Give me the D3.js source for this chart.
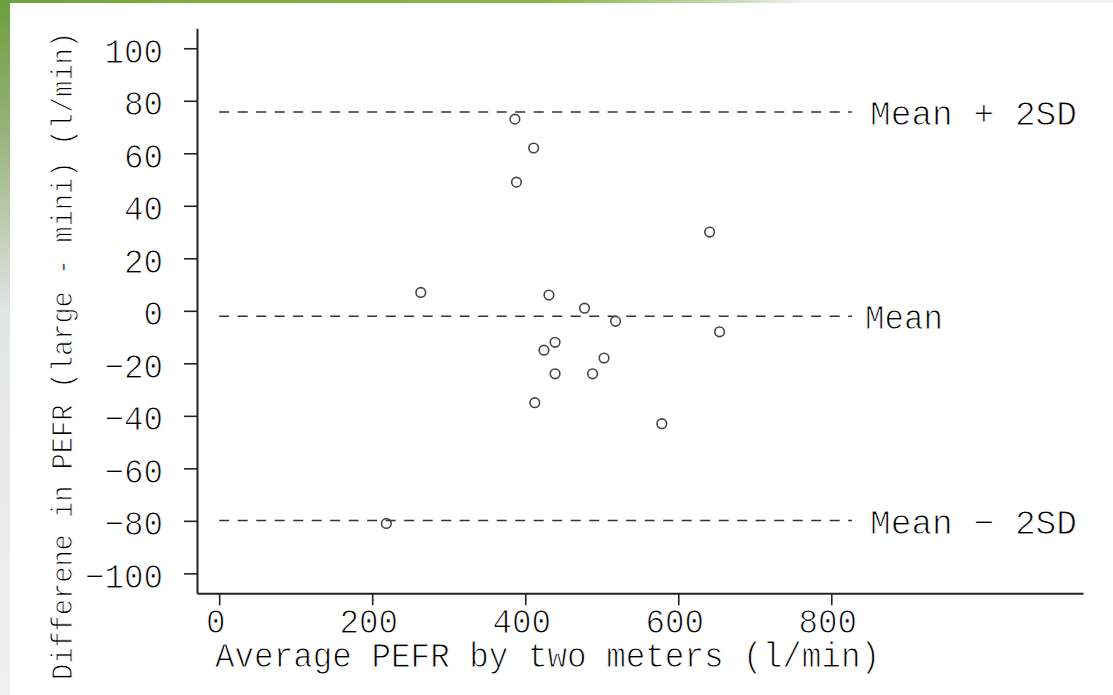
<!DOCTYPE html>
<html>
<head>
<meta charset="utf-8">
<script src="https://cdn.jsdelivr.net/npm/d3@7"></script>
<style>
  html, body { margin: 0; padding: 0; background: #fff; }
  svg { display: block; }
  text {
    font-family: "Liberation Mono", "DejaVu Sans Mono", monospace;
    fill: #000;
    stroke: #fff;
    stroke-width: 0.9px;
    paint-order: fill;
  }
</style>
</head>
<body>
<svg id="chart" width="1113" height="695"></svg>
<script>
// Bland–Altman plot: large vs mini Wright peak flow meters (17 subjects)
const avgPEFR  = [503, 412.5, 518, 431, 488, 578.5, 388.5, 411, 654, 439, 424.5, 641, 263.5, 477.5, 218.5, 386.5, 439];
const diffPEFR = [-18, -35, -4, 6, -24, -43, 49, 62, -8, -12, -15, 30, 7, 1, -81, 73, -24];

// Limits of agreement: mean difference and mean ± 2 SD
const refValues = [75.7, -2.1, -79.9];
const refLabels = ["Mean + 2SD", "Mean", "Mean \u2212 2SD"];

const xTicks = [0, 200, 400, 600, 800];
const yTicks = [100, 80, 60, 40, 20, 0, -20, -40, -60, -80, -100];

const xTitle = "Average PEFR by two meters (l/min)";
const yTitle = "Differene in PEFR (large - mini) (l/min)";

const svg = d3.select("#chart");
const W = 1113, H = 695;
const stretch = 1.08;   // the plotter glyphs are a little taller than the font

// slide backdrop: green band along top and left edges fading to grey
const defs = svg.append("defs");
const gTop = defs.append("linearGradient").attr("id", "gTop").attr("x1", 0).attr("x2", 1).attr("y1", 0).attr("y2", 0);
gTop.append("stop").attr("offset", 0).attr("stop-color", "#6fa63c");
gTop.append("stop").attr("offset", 0.5).attr("stop-color", "#86bb4a");
gTop.append("stop").attr("offset", 0.66).attr("stop-color", "#c9dcb5");
gTop.append("stop").attr("offset", 0.72).attr("stop-color", "#f0f1ef");
gTop.append("stop").attr("offset", 1).attr("stop-color", "#f2f2f2");
const gLeft = defs.append("linearGradient").attr("id", "gLeft").attr("x1", 0).attr("x2", 0).attr("y1", 0).attr("y2", 1);
gLeft.append("stop").attr("offset", 0).attr("stop-color", "#6c9e3c");
gLeft.append("stop").attr("offset", 0.2).attr("stop-color", "#9ab47e");
gLeft.append("stop").attr("offset", 0.45).attr("stop-color", "#e2e5e6");
gLeft.append("stop").attr("offset", 1).attr("stop-color", "#f0f0f2");

svg.append("rect").attr("x", 0).attr("y", 0).attr("width", W).attr("height", 3).attr("fill", "url(#gTop)");
svg.append("rect").attr("x", 0).attr("y", 0).attr("width", 10).attr("height", H).attr("fill", "url(#gLeft)");

// scales
const x = d3.scaleLinear().domain([-29, 1129]).range([197, 1083]);
const y = d3.scaleLinear().domain([-107.6, 107.6]).range([593.3, 28.3]);

const axisColor = "#222";

// x axis
const xAxis = svg.append("g").attr("transform", `translate(0,${y(-107.6)})`)
  .call(d3.axisBottom(x).tickValues(xTicks).tickSize(12).tickSizeOuter(0).tickFormat(""));
xAxis.select(".domain").attr("stroke", axisColor).attr("stroke-width", 2);
xAxis.selectAll(".tick line").attr("stroke", axisColor).attr("stroke-width", 1.6);

// y axis
const yAxis = svg.append("g").attr("transform", `translate(${x(-29)},0)`)
  .call(d3.axisLeft(y).tickValues(yTicks).tickSize(13).tickSizeOuter(0).tickFormat(""));
yAxis.select(".domain").attr("stroke", axisColor).attr("stroke-width", 2);
yAxis.selectAll(".tick line").attr("stroke", axisColor).attr("stroke-width", 1.6);

// tick labels
const fs = 32.5;
svg.append("g").selectAll("text").data(xTicks).join("text")
  .attr("transform", d => `translate(${x(d) - 3.5},633) scale(1,${stretch})`)
  .attr("text-anchor", "middle")
  .attr("font-size", fs)
  .text(d => d);

svg.append("g").selectAll("text").data(yTicks).join("text")
  .attr("transform", d => `translate(163,${y(d) + 14.5}) scale(1,${stretch})`)
  .attr("text-anchor", "end")
  .attr("font-size", fs)
  .text(d => d < 0 ? "\u2212" + Math.abs(d) : d);

// axis titles
svg.append("text")
  .attr("transform", `translate(215,667) scale(1,${stretch})`)
  .attr("font-size", fs)
  .attr("textLength", 665).attr("lengthAdjust", "spacingAndGlyphs")
  .text(xTitle);

svg.append("text")
  .attr("transform", `translate(72,680) rotate(-90) scale(1,${stretch})`)
  .attr("font-size", 27.5)
  .attr("textLength", 648).attr("lengthAdjust", "spacingAndGlyphs")
  .text(yTitle);

// reference lines
const lineEnd = 827;
svg.append("g").selectAll("line").data(refValues).join("line")
  .attr("x1", x(0)).attr("x2", x(lineEnd))
  .attr("y1", d => y(d)).attr("y2", d => y(d))
  .attr("stroke", "#333")
  .attr("stroke-width", 1.6)
  .attr("stroke-dasharray", "10,8.5");

const labelX = [870, 865, 870];
const labelLen = [207, 78, 207];
svg.append("g").selectAll("text").data(refValues).join("text")
  .attr("transform", (d, i) => `translate(${labelX[i]},${y(d) + 13}) scale(1,${stretch})`)
  .attr("font-size", fs)
  .attr("textLength", (d, i) => labelLen[i]).attr("lengthAdjust", "spacingAndGlyphs")
  .text((d, i) => refLabels[i]);

// observations
svg.append("g").selectAll("circle").data(avgPEFR).join("circle")
  .attr("cx", d => x(d))
  .attr("cy", (d, i) => y(diffPEFR[i]))
  .attr("r", 4.8)
  .attr("fill", "none")
  .attr("stroke", "#444")
  .attr("stroke-width", 1.6);
</script>
</body>
</html>
